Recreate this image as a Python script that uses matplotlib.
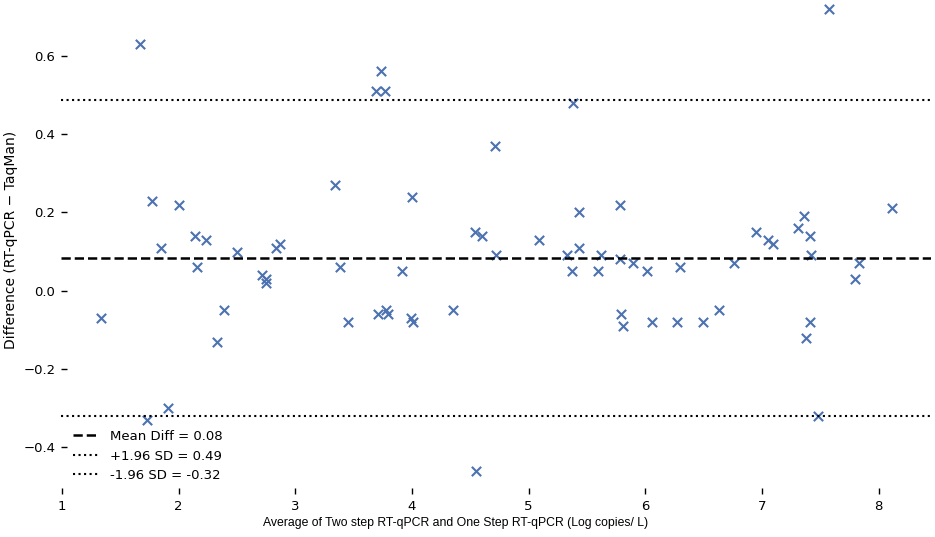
import numpy as np
import matplotlib
matplotlib.use('Agg')
import matplotlib.pyplot as plt

# ── data ─────────────────────────────────────────────────────────────────────
avg = [1.33, 1.67, 1.77, 1.85, 1.73, 1.91, 2.00, 2.14, 2.16, 2.23,
       2.33, 2.39, 2.50, 2.71, 2.75, 2.75, 2.83, 2.87, 3.34, 3.38,
       3.45, 3.69, 3.73, 3.77, 3.71, 3.78, 3.79, 3.91, 3.99, 4.01,
       4.00, 4.35, 4.55, 4.54, 4.60, 4.71, 4.72, 5.09, 5.33, 5.37,
       5.38, 5.43, 5.43, 5.59, 5.62, 5.78, 5.78, 5.79, 5.81, 5.89,
       6.01, 6.06, 6.27, 6.30, 6.49, 6.63, 6.76, 6.95, 7.05, 7.09,
       7.31, 7.36, 7.38, 7.41, 7.42, 7.41, 7.48, 7.57, 7.80, 7.83,
       8.11]
diff = [-0.07, 0.63, 0.23, 0.11, -0.33, -0.30, 0.22, 0.14, 0.06, 0.13,
        -0.13, -0.05, 0.10, 0.04, 0.03, 0.02, 0.11, 0.12, 0.27, 0.06,
        -0.08, 0.51, 0.56, 0.51, -0.06, -0.05, -0.06, 0.05, -0.07, -0.08,
        0.24, -0.05, -0.46, 0.15, 0.14, 0.37, 0.09, 0.13, 0.09, 0.05,
        0.48, 0.20, 0.11, 0.05, 0.09, 0.22, 0.08, -0.06, -0.09, 0.07,
        0.05, -0.08, -0.08, 0.06, -0.08, -0.05, 0.07, 0.15, 0.13, 0.12,
        0.16, 0.19, -0.12, 0.14, 0.09, -0.08, -0.32, 0.72, 0.03, 0.07,
        0.21]

mean_diff = 0.083
upper_loa = 0.487
lower_loa = -0.32

# ── figure ───────────────────────────────────────────────────────────────────
fig = plt.figure(figsize=(9.35, 5.37), dpi=100)
ax = fig.add_axes([0.0652, 0.0801, 0.9306, 0.9467])

ax.scatter(avg, diff, marker='x', s=45, linewidths=1.5, color='#4C72B0')
ax.axhline(mean_diff, color='black', ls='--', lw=1.8, label='Mean Diff = 0.08')
ax.axhline(upper_loa, color='black', ls=':', lw=1.5, label='+1.96 SD = 0.49')
ax.axhline(lower_loa, color='black', ls=':', lw=1.5, label='-1.96 SD = -0.32')

for s in ax.spines.values():
    s.set_visible(False)
ax.tick_params(direction='in', length=4.5, width=1, labelsize=9.5, pad=4)
ax.set_xticks([1, 2, 3, 4, 5, 6, 7, 8])
ax.set_yticks([-0.4, -0.2, 0.0, 0.2, 0.4, 0.6])
ax.set_ylabel('Difference (RT-qPCR − TaqMan)', fontsize=10)

fig.text(456 / 935, 1 - 523 / 537,
         'Average of Two step RT-qPCR and One Step RT-qPCR (Log copies/ L)',
         ha='center', va='center', fontsize=8.8, family='Liberation Sans')

ax.legend(loc='lower left', frameon=False, fontsize=9.5)

plt.savefig('out.png', dpi=100)
